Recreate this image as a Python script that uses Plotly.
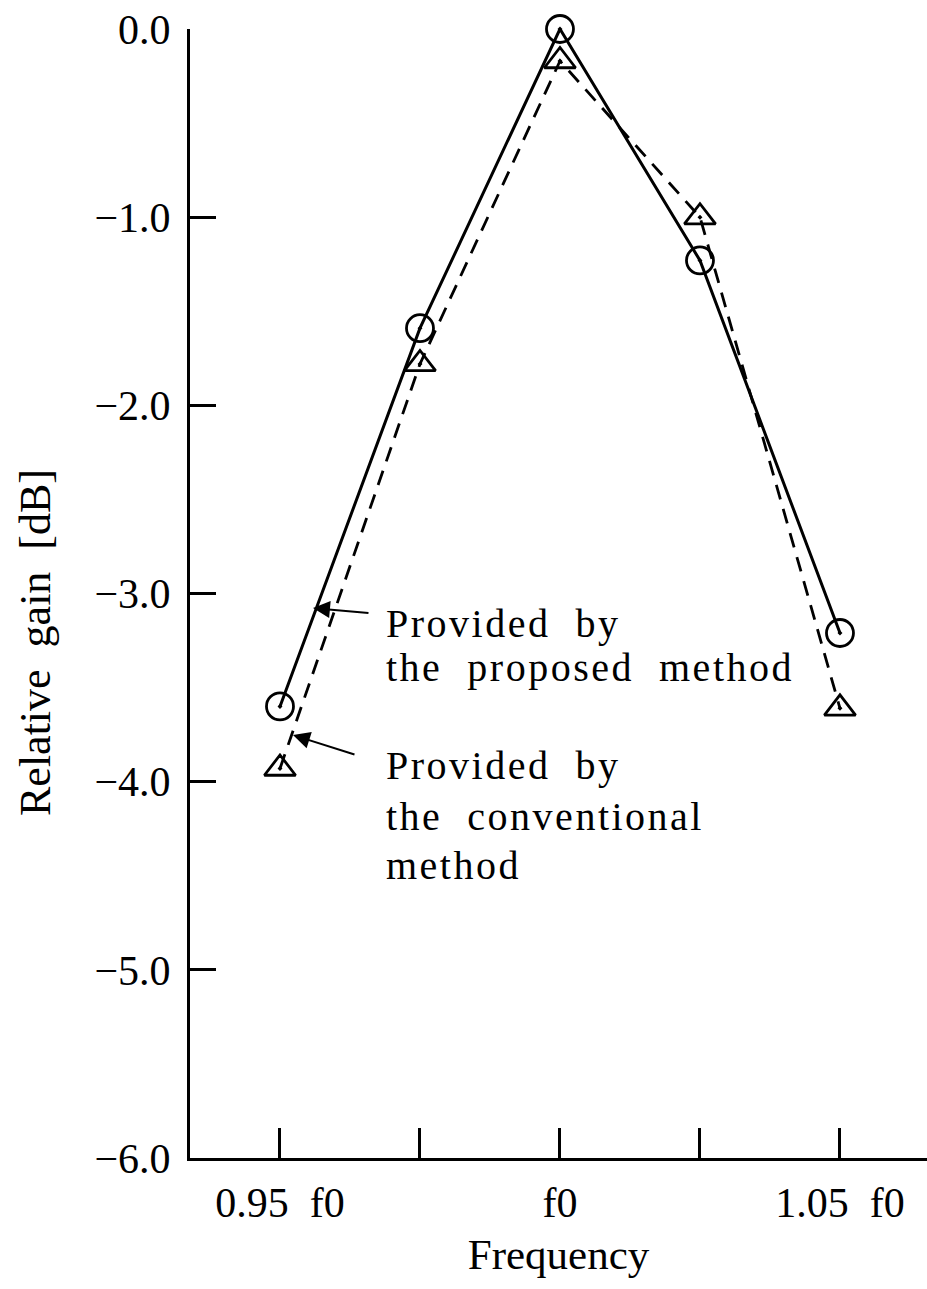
import plotly.graph_objects as go

freq = [0.95, 0.975, 1.0, 1.025, 1.05]
proposed = [-3.6, -1.59, 0.0, -1.23, -3.21]
conventional = [-3.93, -1.78, -0.17, -1.0, -3.61]

x_tickvals = [0.95, 0.975, 1.0, 1.025, 1.05]
x_ticktext = ["0.95&nbsp;&nbsp;f0", "", "f0", "", "1.05&nbsp;&nbsp;f0"]
y_tickvals = [0, -1, -2, -3, -4, -5, -6]
y_ticktext = ["0.0", "\u22121.0", "\u22122.0", "\u22123.0", "\u22124.0", "\u22125.0", "\u22126.0"]

FONT = "Liberation Serif"
X0, X1 = 0.93393, 1.06554
L, T, B, W, H = 190, 29, 131, 927, 1289
PW, PH = W - L, H - T - B

fig = go.Figure()
fig.add_trace(go.Scatter(
    x=freq, y=proposed, mode="lines+markers",
    line=dict(color="black", width=3),
    marker=dict(symbol="circle-open-dot", size=27, color="black", line=dict(width=2.8)),
    cliponaxis=False, showlegend=False))
fig.add_trace(go.Scatter(
    x=freq, y=conventional, mode="lines+markers",
    line=dict(color="black", width=2.8, dash="15px,10px"),
    marker=dict(symbol="triangle-up-open-dot", size=27, color="black", line=dict(width=2.8)),
    cliponaxis=False, showlegend=False))

# arrows pointing at the two curves
fig.add_annotation(x=0.95589, y=-3.077, ax=0.96607, ay=-3.104, axref="x", ayref="y",
                   xref="x", yref="y", showarrow=True, arrowhead=2, arrowsize=1.7,
                   arrowwidth=2, arrowcolor="black", text="", standoff=0)
fig.add_annotation(x=0.95232, y=-3.752, ax=0.96357, ay=-3.858, axref="x", ayref="y",
                   xref="x", yref="y", showarrow=True, arrowhead=2, arrowsize=1.7,
                   arrowwidth=2, arrowcolor="black", text="", standoff=0)

def px_x(x_px):
    return (x_px - L) / PW

def px_y(y_px):
    return 1 - (y_px - T) / PH

def line_label(x_px, baseline_px, txt, size=40):
    fig.add_annotation(x=px_x(x_px), y=px_y(baseline_px - 0.3 * size),
                       xref="paper", yref="paper",
                       text='<span style="letter-spacing:2.5px">' + txt + '</span>',
                       showarrow=False, xanchor="left", yanchor="middle",
                       font=dict(family=FONT, size=size, color="black"))

line_label(384, 635, "Provided&nbsp;&nbsp;by")
line_label(384, 679, "the&nbsp;&nbsp;proposed&nbsp;&nbsp;method")
line_label(384, 777, "Provided&nbsp;&nbsp;by")
line_label(384, 828, "the&nbsp;&nbsp;conventional")
line_label(384, 877, "method")

# y-axis title
fig.add_annotation(x=px_x(35), y=px_y(643), xref="paper", yref="paper",
                   text="Relative&nbsp;&nbsp;gain&nbsp;&nbsp;[dB]", textangle=-90,
                   showarrow=False, xanchor="center", yanchor="middle",
                   font=dict(family=FONT, size=44, color="black"))

fig.update_layout(
    width=W, height=H,
    margin=dict(l=L, r=0, t=T, b=B),
    paper_bgcolor="white", plot_bgcolor="white",
    font=dict(family=FONT, size=42, color="black"),
    xaxis=dict(range=[X0, X1], tickvals=x_tickvals, ticktext=x_ticktext,
               ticks="inside", ticklen=30, tickwidth=2.5, tickcolor="black",
               showline=True, linecolor="black", linewidth=3, showgrid=False,
               zeroline=False, tickfont=dict(family=FONT, size=42),
               ticklabelstandoff=6,
               title=dict(text="Frequency", font=dict(family=FONT, size=43), standoff=14)),
    yaxis=dict(range=[-6, 0], tickvals=y_tickvals, ticktext=y_ticktext,
               ticks="inside", ticklen=26, tickwidth=2.5, tickcolor="black",
               showline=True, linecolor="black", linewidth=3, showgrid=False,
               zeroline=False, tickfont=dict(family=FONT, size=42),
               ticklabelstandoff=8),
)

fig.write_html("out.html")
